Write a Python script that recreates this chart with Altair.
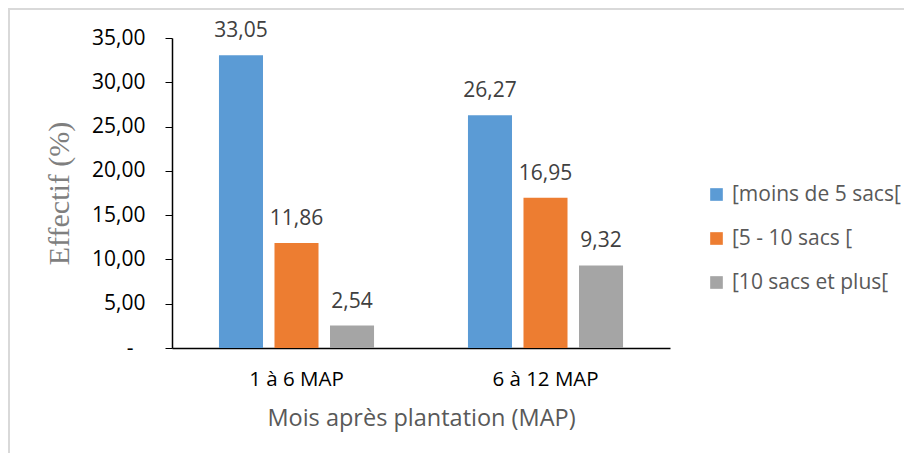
import altair as alt
import pandas as pd

periods = ["1 à 6 MAP", "6 à 12 MAP"]
classes = ["[moins de 5 sacs[", "[5 - 10 sacs [", "[10 sacs et plus["]
values_p1 = [33.05, 11.86, 2.54]
values_p2 = [26.27, 16.95, 9.32]
colors = ["#5B9BD5", "#ED7D31", "#A5A5A5"]

rows = []
for p, vals in zip(periods, [values_p1, values_p2]):
    for i, (c, v) in enumerate(zip(classes, vals)):
        rows.append({"periode": p, "classe": c, "ordre": i, "valeur": v,
                     "lab": f"{v:.2f}".replace(".", ",")})
df = pd.DataFrame(rows)

FONT = "Open Sans"

x = alt.X("periode:N", sort=periods,
          scale=alt.Scale(paddingInner=0, paddingOuter=0),
          axis=alt.Axis(title="Mois après plantation (MAP)", labelAngle=0,
                        ticks=False, labelFontSize=20.5, labelColor="#000000",
                        labelFont=FONT, labelPadding=21,
                        domainColor="#000000", domainWidth=1.5,
                        titleFont=FONT, titleFontSize=23.5, titleColor="#595959",
                        titleFontWeight="normal", titleY=70, titleBaseline="middle"))
xo = alt.XOffset("classe:N", sort=classes,
                 scale=alt.Scale(paddingInner=0.207, paddingOuter=0.846))
y = alt.Y("valeur:Q",
          scale=alt.Scale(domain=[0, 35], nice=False),
          axis=alt.Axis(values=[0, 5, 10, 15, 20, 25, 30, 35], grid=False,
                        labelExpr="datum.value == 0 ? '-' : replace(format(datum.value, '.2f'), '.', ',')",
                        labelFont=FONT, labelFontSize=21, labelColor="#000000",
                        labelPadding={"condition": {"test": "datum.value === 0", "value": 32}, "value": 20},
                        tickSize=7, tickColor="#000000",
                        domainColor="#000000", domainWidth=1.5,
                        title="Effectif (%)", titleFont="Liberation Serif",
                        titleFontSize=30, titleColor="#7F7F7F",
                        titleFontWeight="normal", titlePadding=17))

color = alt.Color("classe:N", sort=classes,
                  scale=alt.Scale(domain=classes, range=colors),
                  legend=alt.Legend(title=None, orient="none", legendX=534, legendY=146,
                                    symbolType="square", symbolSize=160,
                                    symbolStrokeWidth=0,
                                    labelFont=FONT, labelFontSize=21,
                                    labelColor="#595959", labelOffset=5,
                                    rowPadding=22, labelLimit=300))

bars = alt.Chart(df).mark_bar().encode(x=x, xOffset=xo, y=y, color=color)
text = alt.Chart(df).mark_text(baseline="alphabetic", dy=-18, font=FONT,
                               fontSize=21, color="#404040").encode(
    x=x, xOffset=xo, y=y, text="lab:N")

frame_data = alt.Data(values=[{"a": 1}])
top_line = alt.Chart(frame_data).mark_rule(color="#D9D9D9", strokeWidth=2).encode(
    x=alt.value(-164), x2=alt.value(740), y=alt.value(-29), y2=alt.value(-29))
left_line = alt.Chart(frame_data).mark_rule(color="#D9D9D9", strokeWidth=2).encode(
    x=alt.value(-163), x2=alt.value(-163), y=alt.value(-29), y2=alt.value(420))

chart = alt.layer(top_line, left_line, bars, text).properties(
    width=498, height=310,
    autosize=alt.AutoSizeParams(type="none"),
    padding={"left": 164, "top": 30, "right": 234, "bottom": 105},
).configure(background="white").configure_view(strokeWidth=0, stroke=None)

chart.save("out.html", embed_options={"renderer": "svg", "actions": False})
